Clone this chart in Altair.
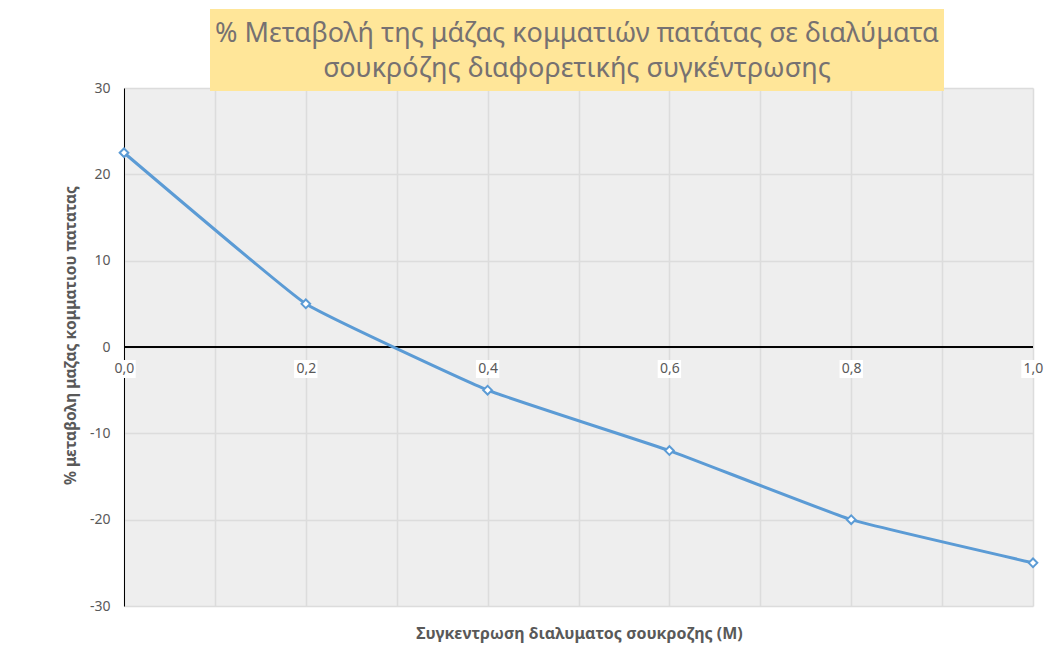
import altair as alt
import pandas as pd

# ---- data ----
CONCENTRATION = [0.0, 0.2, 0.4, 0.6, 0.8, 1.0]
MASS_CHANGE = [22.5, 5.0, -5.0, -12.0, -20.0, -25.0]
X_LABEL_TICKS = [0.0, 0.2, 0.4, 0.6, 0.8, 1.0]
X_GRID_TICKS = [0.0, 0.1, 0.2, 0.3, 0.4, 0.5, 0.6, 0.7, 0.8, 0.9, 1.0]
Y_TICKS = [-30, -20, -10, 0, 10, 20, 30]
TITLE_LINES = ["% Μεταβολή της μάζας κομματιών πατάτας σε διαλύματα",
               "σουκρόζης διαφορετικής συγκέντρωσης"]
X_TITLE = "Συγκεντρωση διαλυματος σουκροζης (M)"
Y_TITLE = "% μεταβολη μαζας κομματιου πατατας"

df = pd.DataFrame({"x": CONCENTRATION, "y": MASS_CHANGE})
ticks_df = pd.DataFrame({"x": X_LABEL_TICKS, "y": [0] * len(X_LABEL_TICKS)})
one = pd.DataFrame({"a": [0]})

W, H = 909, 518
FONT = "Noto Sans"
TXT = "#595959"
BLUE = "#5B9BD5"
GRID = "#dcdcdc"

xscale = alt.Scale(domain=[0, 1], nice=False, zero=False)
yscale = alt.Scale(domain=[-30, 30], nice=False)

yaxis = alt.Axis(values=Y_TICKS, grid=True, gridColor=GRID, gridWidth=1.5,
                 domain=True, domainColor="black", domainWidth=1,
                 ticks=False, labelPadding=14, labelFontSize=14, labelColor=TXT,
                 labelFont=FONT, labelExpr="datum.value + ''",
                 title=Y_TITLE, titleFont=FONT, titleFontSize=15.5,
                 titleFontWeight="bold", titleColor=TXT, titleX=-54, titleY=247,
                 titleBaseline="middle", titleAngle=-90, zindex=0)

label_axis = alt.Axis(orient="bottom", offset=-(H / 2), values=X_LABEL_TICKS,
                      grid=False, domain=False, ticks=False, labelPadding=14,
                      labelFontSize=14, labelColor=TXT, labelFont=FONT,
                      labelExpr="replace(format(datum.value, '.1f'), '.', ',')",
                      labelFlush=False, title=None, zindex=2)

grid_axis = alt.Axis(orient="bottom", values=X_GRID_TICKS, grid=True,
                     gridColor=GRID, gridWidth=1.5, domain=False, ticks=False,
                     labels=False, title=X_TITLE, titleFont=FONT, titleFontSize=16,
                     titleFontWeight="bold", titleColor=TXT, titleX=455, titleY=27,
                     titleBaseline="middle", zindex=0)

title_box = alt.Chart(one).mark_rect(color="#FFE699").encode(
    x=alt.value(86), x2=alt.value(820), y=alt.value(-79), y2=alt.value(3))

title_text = alt.Chart(one).mark_text(
    font=FONT, fontSize=27, color="#767171", align="center",
    baseline="alphabetic", lineHeight=35).encode(
    x=alt.value(453), y=alt.value(-46), text=alt.value(TITLE_LINES))

grid_layer = alt.Chart(df).mark_line(opacity=0).encode(
    x=alt.X("x:Q", scale=xscale, axis=grid_axis),
    y=alt.Y("y:Q", scale=yscale, axis=yaxis))

label_boxes = alt.Chart(ticks_df).mark_point(
    shape="M -1.3 -1 L 1.3 -1 L 1.3 1 L -1.3 1 Z", filled=True,
    fill="white", opacity=1, size=324, yOffset=22).encode(
    x=alt.X("x:Q", scale=xscale, axis=None),
    y=alt.Y("y:Q", scale=yscale, axis=yaxis))

zero_line = alt.Chart(ticks_df).mark_rule(color="black", strokeWidth=1.2).encode(
    y=alt.Y("y:Q", scale=yscale, axis=yaxis))

line = alt.Chart(df).mark_line(color=BLUE, strokeWidth=3,
                               interpolate="cardinal", tension=0.7).encode(
    x=alt.X("x:Q", scale=xscale, axis=label_axis),
    y=alt.Y("y:Q", scale=yscale, axis=yaxis))

points = alt.Chart(df).mark_point(shape="diamond", filled=True, fill="white",
                                  stroke=BLUE, strokeWidth=2, size=75,
                                  opacity=1).encode(
    x=alt.X("x:Q", scale=xscale, axis=None),
    y=alt.Y("y:Q", scale=yscale, axis=yaxis))

chart = alt.layer(
    grid_layer, label_boxes, zero_line, line, points, title_box, title_text
).resolve_axis(x="independent").properties(
    width=W, height=H,
    background="white",
    autosize=alt.AutoSizeParams(type="none"),
    padding={"left": 116, "top": 80, "right": 11, "bottom": 40},
).configure_view(stroke=None, fill="#eeeeee")

chart.save("out.html", embed_options={"renderer": "svg", "actions": False})
